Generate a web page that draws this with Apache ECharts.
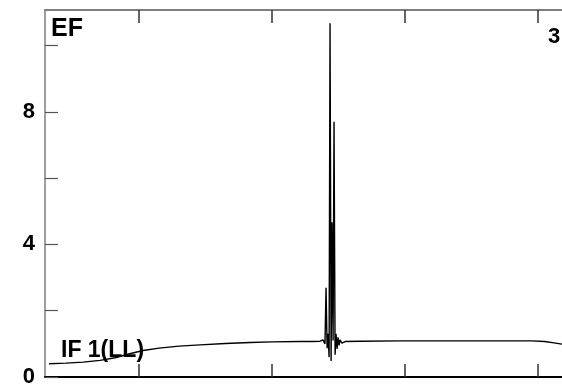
<!DOCTYPE html>
<html><head><meta charset="utf-8">
<script src="https://cdn.jsdelivr.net/npm/echarts@6/dist/echarts.min.js"></script>
<style>html,body{margin:0;padding:0;background:#fff}#c{width:562px;height:388px}</style>
</head><body><div id="c"></div>
<script>
// x positions (arbitrary units, axis ticks at 100,200,300,400)
const xs = [32.3, 45, 58, 70.7, 82, 93, 103.0, 115, 130, 145.9, 165, 183.5, 200, 221.1, 230, 236.1, 238.3, 239.8, 240.6, 241.4, 242.1, 242.9, 243.6, 244.4, 245.1, 245.9, 246.6, 247.4, 248.1, 248.9, 249.6, 250.4, 251.1, 252.5, 254.9, 266.2, 296.2, 333.8, 371.4, 395, 405, 412, 418.0];
const ys = [0.40, 0.42, 0.45, 0.50, 0.58, 0.70, 0.80, 0.87, 0.93, 0.97, 1.01, 1.04, 1.06, 1.07, 1.07, 1.08, 1.12, 1.00, 2.69, 0.87, 1.30, 0.60, 10.67, 0.48, 4.67, 1.10, 7.70, 0.67, 1.30, 0.85, 1.20, 0.95, 1.12, 1.02, 1.07, 1.08, 1.09, 1.09, 1.09, 1.09, 1.07, 1.03, 0.99];
const yTicks = [0, 2, 4, 6, 8, 10];
const yLabels = [0, 4, 8];
const xTicks = [100, 200, 300, 400];
const titleLeft = 'EF';
const titleRight = '3';
const seriesName = 'IF 1(LL)';

const data = xs.map((x, i) => [x, ys[i]]);
const chart = echarts.init(document.getElementById('c'), null, {renderer: 'canvas'});
const FONT = 'Arial, "Liberation Sans", sans-serif';
chart.setOption({
  animation: false,
  grid: {left: 45, right: 0, top: 10, bottom: 9, containLabel: false},
  xAxis: [{
    type: 'value', min: 29.3, max: 418.0, position: 'bottom',
    axisLine: {show: true, lineStyle: {color: '#000', width: 2}},
    axisTick: {show: true, inside: true, length: 13, customValues: xTicks, lineStyle: {color: '#333', width: 1.5}},
    axisLabel: {show: false}, splitLine: {show: false}
  }, {
    type: 'value', min: 29.3, max: 418.0, position: 'top',
    axisLine: {show: true, lineStyle: {color: '#7f7f7f', width: 2}},
    axisTick: {show: true, inside: true, length: 13, customValues: xTicks, lineStyle: {color: '#333', width: 1.5}},
    axisLabel: {show: false}, splitLine: {show: false}
  }],
  yAxis: {
    type: 'value', min: 0, max: 11.07,
    axisLine: {show: true, lineStyle: {color: '#7f7f7f', width: 1.5}},
    axisTick: {show: true, inside: true, length: 13, customValues: yTicks, lineStyle: {color: '#555', width: 1.2}},
    axisLabel: {show: true, customValues: yLabels, margin: 10, fontSize: 22, fontWeight: 'bold', color: '#000', fontFamily: FONT, padding: [4, 0, 0, 0]},
    splitLine: {show: false}
  },
  series: [{
    type: 'line', name: seriesName, data: data, showSymbol: false, symbol: 'none',
    lineStyle: {color: '#000', width: 1.4}, xAxisIndex: 0
  }],
  graphic: [
    {type: 'text', left: 51, top: 17, style: {text: titleLeft, fontSize: 25, fontWeight: 'bold', fill: '#000', fontFamily: FONT}},
    {type: 'text', left: 548, top: 26, style: {text: titleRight, fontSize: 22, fontWeight: 'bold', fill: '#000', fontFamily: FONT}},
    {type: 'text', left: 61, top: 339, style: {text: seriesName, fontSize: 23, fontWeight: 'bold', fill: '#000', fontFamily: FONT}}
  ]
});
</script></body></html>
